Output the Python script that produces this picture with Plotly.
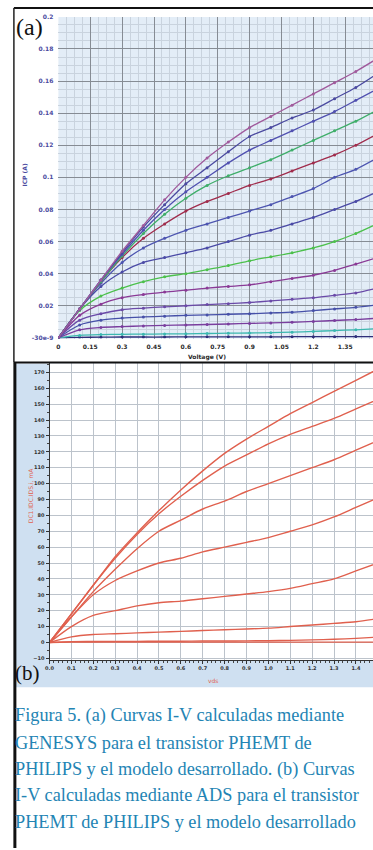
import plotly.graph_objects as go

W, H = 373, 850
def px(x): return x / W
def py(y): return 1 - y / H

# ---------------- data: panel (a) GENESYS ----------------
v_a = [0, 0.1, 0.2, 0.3, 0.4, 0.5, 0.6, 0.7, 0.8, 0.9, 1.0, 1.1, 1.2, 1.3, 1.4, 1.5]
a_c1 = [0, 0.0003, 0.0004, 0.0005, 0.0005, 0.0005, 0.0006, 0.0006, 0.0006, 0.0006, 0.0006, 0.0007, 0.0007, 0.0007, 0.0008, 0.0008]
a_c2 = [0, 0.0015, 0.002, 0.0022, 0.0023, 0.0024, 0.0025, 0.0027, 0.0029, 0.003, 0.0032, 0.0035, 0.004, 0.0045, 0.005, 0.0057]
a_c3 = [0, 0.005, 0.0065, 0.007, 0.0074, 0.0077, 0.008, 0.0083, 0.0086, 0.009, 0.0093, 0.0097, 0.0102, 0.0108, 0.0114, 0.0122]
a_c4 = [0, 0.008, 0.011, 0.0123, 0.013, 0.0135, 0.014, 0.0143, 0.0147, 0.015, 0.0155, 0.016, 0.017, 0.018, 0.019, 0.0205]
a_c5 = [0, 0.011, 0.015, 0.0175, 0.0185, 0.0193, 0.020, 0.0207, 0.0213, 0.022, 0.023, 0.024, 0.025, 0.0265, 0.028, 0.031]
a_c6 = [0, 0.014, 0.021, 0.025, 0.027, 0.0285, 0.0297, 0.031, 0.032, 0.033, 0.035, 0.037, 0.039, 0.042, 0.046, 0.050]
a_c7 = [0, 0.017, 0.026, 0.031, 0.035, 0.038, 0.040, 0.0425, 0.045, 0.048, 0.0505, 0.053, 0.056, 0.060, 0.065, 0.071]
a_c8 = [0, 0.018, 0.032, 0.041, 0.047, 0.050, 0.053, 0.056, 0.060, 0.064, 0.067, 0.071, 0.075, 0.080, 0.085, 0.091]
a_c9 = [0, 0.018, 0.034, 0.047, 0.056, 0.062, 0.067, 0.071, 0.075, 0.079, 0.083, 0.088, 0.093, 0.100, 0.105, 0.112]
a_c10 = [0, 0.018, 0.035, 0.050, 0.062, 0.071, 0.079, 0.085, 0.090, 0.095, 0.099, 0.104, 0.109, 0.114, 0.120, 0.127]
a_c11 = [0, 0.018, 0.035, 0.051, 0.065, 0.077, 0.087, 0.095, 0.101, 0.106, 0.111, 0.117, 0.123, 0.129, 0.135, 0.142]
a_c12 = [0, 0.018, 0.036, 0.052, 0.067, 0.080, 0.091, 0.100, 0.109, 0.117, 0.123, 0.129, 0.135, 0.141, 0.148, 0.155]
a_c13 = [0, 0.018, 0.036, 0.053, 0.069, 0.083, 0.096, 0.106, 0.116, 0.1255, 0.131, 0.137, 0.142, 0.149, 0.156, 0.1645]
a_c14 = [0, 0.018, 0.036, 0.054, 0.070, 0.086, 0.100, 0.112, 0.122, 0.131, 0.138, 0.145, 0.152, 0.159, 0.166, 0.174]
a_series = [a_c1, a_c2, a_c3, a_c4, a_c5, a_c6, a_c7, a_c8, a_c9, a_c10, a_c11, a_c12, a_c13, a_c14]
a_colors = ['#2e2e7a', '#3cb8b0', '#7a3e9e', '#4650a8', '#6a4aa8', '#8a3a96', '#4cc04c',
            '#4a4aa6', '#4d55b0', '#a02c4c', '#3fae6a', '#5050b0', '#4b4aa0', '#a05a9c']
a_ytickvals = [0, 0.02, 0.04, 0.06, 0.08, 0.1, 0.12, 0.14, 0.16, 0.18, 0.2]
a_yticktext = ['-30e-9', '0.02', '0.04', '0.06', '0.08', '0.1', '0.12', '0.14', '0.16', '0.18', '0.2']

# ---------------- data: panel (b) ADS ----------------
v_b = [0, 0.1, 0.2, 0.3, 0.4, 0.5, 0.6, 0.7, 0.8, 0.9, 1.0, 1.1, 1.2, 1.3, 1.4, 1.5]
b_a = [0, 18, 36, 54, 69, 83, 96, 108, 119, 128, 136, 144, 151, 158, 165, 172]
b_b = [0, 18, 36, 53, 68, 81, 92, 102, 111, 118, 125, 131, 136, 141, 147, 153]
b_c = [0, 16, 32, 46, 59, 70, 77, 84, 89, 95, 100, 105, 110, 115, 121, 127]
b_d = [0, 16, 30, 39, 45, 50, 53, 57, 60, 63, 66, 70, 74, 79, 85, 91]
b_e = [0, 10, 17, 20, 23, 25, 26, 27.5, 29, 30.5, 32, 34, 37, 40, 45, 50]
b_f = [0, 3.5, 5, 5.5, 6, 6.5, 7, 7.5, 8, 8.5, 9, 10, 11, 12, 13, 15]
b_g = [0, 0.5, 0.6, 0.7, 0.7, 0.8, 0.8, 0.9, 0.9, 1.0, 1.1, 1.3, 1.6, 2.0, 2.6, 3.4]
b_h = [0, 0.2, 0.2, 0.2, 0.2, 0.2, 0.2, 0.2, 0.2, 0.2, 0.2, 0.2, 0.2, 0.2, 0.2, 0.2]
b_series = [b_h, b_g, b_f, b_e, b_d, b_c, b_b, b_a]
b_ytickvals = [-10, 0, 10, 20, 30, 40, 50, 60, 70, 80, 90, 100, 110, 120, 130, 140, 150, 160, 170]

caption = [
    "Figura 5. (a) Curvas I-V calculadas mediante",
    "GENESYS para el transistor PHEMT de",
    "PHILIPS y el modelo desarrollado. (b) Curvas",
    "I-V calculadas mediante ADS para el transistor",
    "PHEMT de PHILIPS y el modelo desarrollado",
]

fig = go.Figure()
for ys, col in zip(a_series, a_colors):
    fig.add_trace(go.Scatter(x=v_a, y=ys, mode='lines+markers', xaxis='x', yaxis='y',
                             line=dict(color=col, width=1.3, shape='spline', smoothing=0.8),
                             marker=dict(size=3, color=col), showlegend=False, hoverinfo='skip'))
for ys in b_series:
    fig.add_trace(go.Scatter(x=v_b, y=ys, mode='lines', xaxis='x2', yaxis='y2',
                             line=dict(color='#e0604e', width=1.4, shape='spline', smoothing=0.8),
                             showlegend=False, hoverinfo='skip'))

tickf = dict(family='DejaVu Sans', size=6, color='#2a2a2a', weight='bold')

fig.update_layout(
    width=W, height=H, margin=dict(l=0, r=0, t=0, b=0),
    paper_bgcolor='white', plot_bgcolor='rgba(0,0,0,0)',
    xaxis=dict(domain=[px(55), 1], range=[0, 1.481], anchor='y', tick0=0, dtick=0.15,
               showgrid=True, gridcolor='#868c94', gridwidth=1, zeroline=False, showline=False,
               ticks='', tickfont=tickf, ticklabelstandoff=3,
               minor=dict(dtick=0.0375, tick0=0, showgrid=True, gridcolor='#c9d3de', gridwidth=1)),
    yaxis=dict(domain=[py(337), py(13)], range=[-0.0005, 0.2], anchor='x', tickmode='array',
               tickvals=a_ytickvals, ticktext=a_yticktext,
               showgrid=True, gridcolor='#868c94', gridwidth=1, zeroline=False, showline=False,
               ticks='', tickfont=dict(family='DejaVu Sans', size=6, color='#4b4ba0', weight='bold'),
               ticklabelstandoff=4,
               minor=dict(dtick=0.005, tick0=0, showgrid=True, gridcolor='#c9d3de', gridwidth=1)),
    xaxis2=dict(domain=[px(46), 1], range=[0, 1.478], anchor='y2', tick0=0, dtick=0.1,
                tickformat='.1f', showgrid=True, gridcolor='#bcc3cb', gridwidth=1.2, zeroline=False,
                showline=True, linecolor='#333', linewidth=1, ticks='outside', ticklen=3,
                tickcolor='#333', tickfont=dict(family='DejaVu Sans', size=5, color='#333', weight='bold'),
                minor=dict(dtick=0.02, tick0=0, ticks='outside', ticklen=2, tickcolor='#444', showgrid=False)),
    yaxis2=dict(domain=[py(661), py(362)], range=[-11.25, 175.6], anchor='x2', tickmode='array',
                tickvals=b_ytickvals, showgrid=True, gridcolor='#bcc3cb', gridwidth=1.2, zeroline=False,
                showline=True, linecolor='#333', linewidth=1, ticks='outside', ticklen=3,
                tickcolor='#333', tickfont=dict(family='DejaVu Sans', size=5, color='#333', weight='bold'),
                minor=dict(dtick=5, tick0=0, ticks='outside', ticklen=2, tickcolor='#444', showgrid=False)),
)

shapes = [
    dict(type='rect', xref='x domain', yref='y domain', x0=0, x1=1, y0=0, y1=1,
         fillcolor='#e3edf7', line=dict(width=0), layer='below'),
    dict(type='rect', xref='paper', yref='paper', x0=px(12), x1=1, y0=py(688), y1=py(362),
         fillcolor='#cfe0f1', line=dict(width=0), layer='below'),
    dict(type='rect', xref='x2 domain', yref='y2 domain', x0=0, x1=1, y0=0, y1=1,
         fillcolor='white', line=dict(width=0), layer='below'),
    dict(type='line', xref='paper', yref='paper', x0=px(10), x1=1, y0=py(4), y1=py(4),
         line=dict(color='#111', width=2)),
    dict(type='line', xref='paper', yref='paper', x0=px(10), x1=px(10), y0=py(4), y1=py(361),
         line=dict(color='#222', width=1.5)),
    dict(type='line', xref='paper', yref='paper', x0=px(10), x1=1, y0=py(361), y1=py(361),
         line=dict(color='#111', width=2)),
    dict(type='line', xref='paper', yref='paper', x0=px(11), x1=px(11), y0=py(361), y1=0,
         line=dict(color='#111', width=3)),
]
fig.update_layout(shapes=shapes)

ann = [
    dict(text='(a)', x=px(26), y=py(23), font=dict(family='Liberation Serif', size=24, color='#111')),
    dict(text='(b)', x=px(24), y=py(674), font=dict(family='Liberation Serif', size=21, color='#111')),
    dict(text='ICP (A)', x=px(21), y=py(172), textangle=-90,
         font=dict(family='DejaVu Sans', size=6, color='#4b4ba0', weight='bold')),
    dict(text='Voltage (V)', x=px(205), y=py(356),
         font=dict(family='DejaVu Sans', size=6, color='#2a2a2a', weight='bold')),
    dict(text='DC1.IDC.IDS.i, mA', x=px(27), y=py(495), textangle=-90,
         font=dict(family='DejaVu Sans', size=6, color='#e0604e')),
    dict(text='vds', x=px(212), y=py(681),
         font=dict(family='DejaVu Sans', size=6, color='#e0604e')),
]
for a in ann:
    a.update(xref='paper', yref='paper', showarrow=False, xanchor='center', yanchor='middle')
cap_y = [717, 744, 771, 797, 824]
for t, yy in zip(caption, cap_y):
    ann.append(dict(text=t, x=px(9), y=py(yy), xref='paper', yref='paper', showarrow=False,
                    xanchor='left', yanchor='middle',
                    font=dict(family='Liberation Serif', size=18.3, color='#2384b4')))
fig.update_layout(annotations=ann)

fig.write_html('out.html', config={'displayModeBar': False},
               post_script="document.body.style.margin='0';document.body.style.overflow='hidden';")
